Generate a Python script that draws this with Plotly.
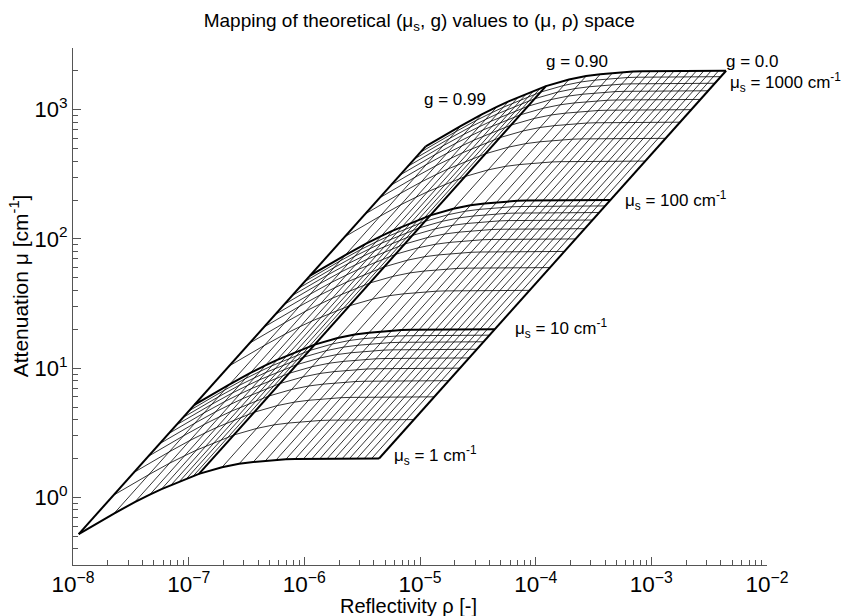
import plotly.graph_objects as go

# scattering coefficients drawn (cm^-1)
mus_values = [1, 2, 3, 4, 5, 6, 7, 8, 9, 10,
              20, 30, 40, 50, 60, 70, 80, 90, 100,
              200, 300, 400, 500, 600, 700, 800, 900, 1000]
# anisotropy values drawn
g_values = [0.0, 0.05, 0.10, 0.15, 0.20, 0.25, 0.30, 0.35, 0.40, 0.45,
            0.50, 0.55, 0.60, 0.65, 0.70, 0.75, 0.80, 0.85, 0.90,
            0.91, 0.92, 0.93, 0.94, 0.95, 0.96, 0.97, 0.98, 0.99]
# reflectivity at mu_s = 1 cm^-1 for each g
rho_at_mus1 = [4.43e-6, 3.82e-6, 3.30e-6, 2.85e-6, 2.46e-6, 2.13e-6, 1.83e-6,
               1.58e-6, 1.36e-6, 1.16e-6, 9.84e-7, 8.30e-7, 6.92e-7, 5.70e-7,
               4.60e-7, 3.62e-7, 2.73e-7, 1.94e-7, 1.227e-7,
               1.093e-7, 9.61e-8, 8.33e-8, 7.06e-8, 5.83e-8, 4.61e-8,
               3.42e-8, 2.26e-8, 1.12e-8]
# attenuation at mu_s = 1 cm^-1 for each g
mu_at_mus1 = [2.00, 2.00, 2.00, 2.00, 2.00, 2.00, 2.00, 2.00, 1.99, 1.99,
              1.99, 1.98, 1.97, 1.95, 1.92, 1.88, 1.82, 1.71, 1.52,
              1.46, 1.40, 1.33, 1.25, 1.16, 1.05, 0.92, 0.75, 0.52]

thick_mus = [1, 10, 100, 1000]
thick_g = [0.0, 0.90, 0.99]

y_tickvals = [1, 10, 100, 1000]
y_ticktext = ["10<sup>0</sup>", "10<sup>1</sup>", "10<sup>2</sup>", "10<sup>3</sup>"]
y_minor_ticks = [0.3, 0.4, 0.5, 0.6, 0.7, 0.8, 0.9,
                 2, 3, 4, 5, 6, 7, 8, 9,
                 20, 30, 40, 50, 60, 70, 80, 90,
                 200, 300, 400, 500, 600, 700, 800, 900,
                 2000, 3000]

fig = go.Figure()

def add_group(xs, ys, width):
    fig.add_trace(go.Scatter(x=xs, y=ys, mode="lines",
                             line=dict(color="black", width=width),
                             hoverinfo="skip", showlegend=False))

thin_x, thin_y, thick_x, thick_y = [], [], [], []
# constant mu_s curves
for m in mus_values:
    xs = [m * r for r in rho_at_mus1]
    ys = [m * u for u in mu_at_mus1]
    if m in thick_mus:
        thick_x += xs + [None]; thick_y += ys + [None]
    else:
        thin_x += xs + [None]; thin_y += ys + [None]
# constant g lines
for gi, g in enumerate(g_values):
    xs = [m * rho_at_mus1[gi] for m in mus_values]
    ys = [m * mu_at_mus1[gi] for m in mus_values]
    if g in thick_g:
        thick_x += xs + [None]; thick_y += ys + [None]
    else:
        thin_x += xs + [None]; thin_y += ys + [None]

add_group(thin_x, thin_y, 0.8)
add_group(thick_x, thick_y, 2.0)

FONT = "Liberation Sans, Arial, sans-serif"
L, R, T, B = 72.7, 766.7, 48.0, 565.0
W, H = 841, 616

def px(xp):
    return (xp - L) / (R - L)

def py(yp):
    return (B - yp) / (B - T)

labels = [
    ("μ<sub>s</sub> = 1 cm<sup>-1</sup>", 392, 455, "left"),
    ("μ<sub>s</sub> = 10 cm<sup>-1</sup>", 513, 328, "left"),
    ("μ<sub>s</sub> = 100 cm<sup>-1</sup>", 623, 200, "left"),
    ("μ<sub>s</sub> = 1000 cm<sup>-1</sup>", 728, 83, "left"),
    ("g = 0.99", 455, 99, "center"),
    ("g = 0.90", 577, 61, "center"),
    ("g = 0.0", 752, 61, "center"),
]
for text, xp, yp, anchor in labels:
    fig.add_annotation(text=text, xref="paper", yref="paper",
                       x=px(xp), y=py(yp), xanchor=anchor, yanchor="middle",
                       showarrow=False, font=dict(size=17, color="black", family=FONT))

fig.add_annotation(text="Reflectivity ρ [-]", xref="paper", yref="paper",
                   x=px(408), y=py(606), xanchor="center", yanchor="middle",
                   showarrow=False, font=dict(size=20, color="black", family=FONT))
fig.add_annotation(text="Attenuation μ [cm<sup>-1</sup>]", xref="paper", yref="paper",
                   x=px(19), y=py(286), xanchor="center", yanchor="middle",
                   textangle=-90, showarrow=False,
                   font=dict(size=21, color="black", family=FONT))

axis_common = dict(
    type="log", showgrid=False, zeroline=False, showline=True,
    linecolor="#555555", linewidth=1, ticks="inside", ticklen=8,
    tickcolor="#555555", tickwidth=1,
    mirror=False,
)

fig.update_layout(
    width=W, height=H,
    margin=dict(l=L, r=W - R, t=T, b=H - B),
    paper_bgcolor="white", plot_bgcolor="white",
    title=dict(text="Mapping of theoretical (μ<sub>s</sub>, g) values to (μ, ρ) space",
               x=px(419), xref="paper", xanchor="center",
               y=1 - 20 / H, yref="container", yanchor="middle",
               font=dict(size=19, color="black", family=FONT)),
    xaxis=dict(range=[-8, -2], dtick=1, exponentformat="power",
               tickfont=dict(size=18, color="black", family=FONT),
               minor=dict(ticks="inside", ticklen=5, tickcolor="#555555", tickwidth=1,
                          showgrid=False),
               **axis_common),
    yaxis=dict(range=[-0.5229, 3.4771], tickmode="array", tickvals=y_tickvals,
               ticktext=y_ticktext,
               tickfont=dict(size=22, color="black", family=FONT),
               minor=dict(ticks="inside", ticklen=5, tickcolor="#555555", tickwidth=1,
                          showgrid=False, tickmode="array", tickvals=y_minor_ticks),
               **axis_common),
    font=dict(family=FONT, color="black"),
)

fig.write_html("out.html")
